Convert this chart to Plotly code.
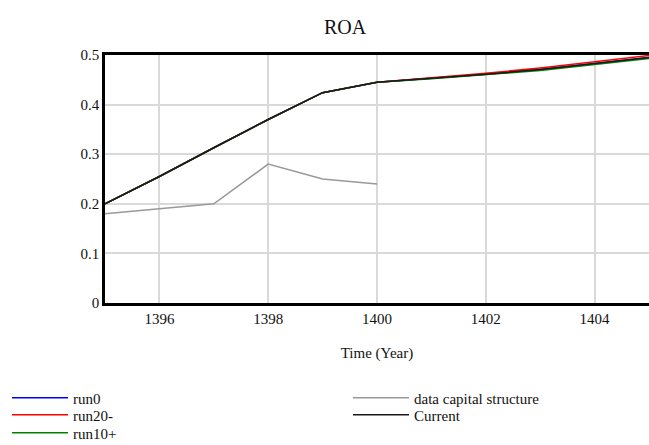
import plotly.graph_objects as go

years = [1395, 1396, 1397, 1398, 1399, 1400, 1401, 1402, 1403, 1404, 1405]
current = [0.200, 0.255, 0.313, 0.370, 0.424, 0.445, 0.453, 0.461, 0.471, 0.483, 0.495]
run0 = [0.200, 0.255, 0.313, 0.370, 0.424, 0.445, 0.453, 0.461, 0.471, 0.483, 0.495]
run20 = [0.200, 0.255, 0.313, 0.370, 0.424, 0.445, 0.454, 0.463, 0.474, 0.486, 0.499]
run10 = [0.200, 0.255, 0.313, 0.370, 0.424, 0.445, 0.452, 0.460, 0.469, 0.481, 0.493]

data_years = [1395, 1396, 1397, 1398, 1399, 1400]
data_cap = [0.18, 0.19, 0.20, 0.28, 0.25, 0.24]

font = "Liberation Serif"

# one legend per entry so the rows can sit tight like the original
fig = go.Figure()
fig.add_trace(go.Scatter(x=years, y=run0, mode="lines", name="run0",
                         line=dict(color="#0000ff", width=1.5), legend="legend"))
fig.add_trace(go.Scatter(x=years, y=run20, mode="lines", name="run20-",
                         line=dict(color="#ff0000", width=1.5), legend="legend2"))
fig.add_trace(go.Scatter(x=years, y=run10, mode="lines", name="run10+",
                         line=dict(color="#008000", width=1.5), legend="legend3"))
fig.add_trace(go.Scatter(x=data_years, y=data_cap, mode="lines", name="data capital structure",
                         line=dict(color="#999999", width=1.5), legend="legend4"))
fig.add_trace(go.Scatter(x=years, y=current, mode="lines", name="Current",
                         line=dict(color="#1a1a1a", width=1.5), legend="legend5"))


def leg(x, y):
    return dict(
        orientation="v", xref="container", yref="container",
        x=x / 649, y=1 - y / 445,
        xanchor="left", yanchor="middle", bgcolor="rgba(0,0,0,0)",
        font=dict(family=font, size=15, color="#111111"),
        itemwidth=56,
    )


fig.update_layout(
    width=649, height=445,
    margin=dict(l=105, r=0, t=55, b=142, autoexpand=False),
    paper_bgcolor="white", plot_bgcolor="white",
    font=dict(family=font, size=15, color="#111111"),
    title=dict(text="ROA", x=345 / 649, xanchor="center", xref="container",
               y=1 - 27 / 445, yanchor="middle", yref="container",
               font=dict(family=font, size=20, color="#111111")),
    legend=leg(7, 398),
    legend2=leg(7, 415),
    legend3=leg(7, 433),
    legend4=leg(348, 398),
    legend5=leg(348, 415),
    showlegend=True,
)
fig.update_xaxes(
    range=[1395, 1405], tickvals=[1396, 1398, 1400, 1402, 1404],
    showgrid=True, gridcolor="#d9d9d9", gridwidth=1.5,
    showline=True, linecolor="black", linewidth=2.5, mirror=True,
    ticks="", zeroline=False,
    title=dict(text="Time (Year)", standoff=22, font=dict(family=font, size=15)),
)
fig.update_yaxes(
    range=[0, 0.5], tickvals=[0, 0.1, 0.2, 0.3, 0.4, 0.5],
    ticktext=["0", "0.1", "0.2", "0.3", "0.4", "0.5"],
    showgrid=True, gridcolor="#d9d9d9", gridwidth=1.5,
    showline=True, linecolor="black", linewidth=2.5, mirror=False,
    ticks="", zeroline=False,
)

fig.write_html("out.html", config={"displayModeBar": False},
               post_script="document.body.style.margin='0';")
